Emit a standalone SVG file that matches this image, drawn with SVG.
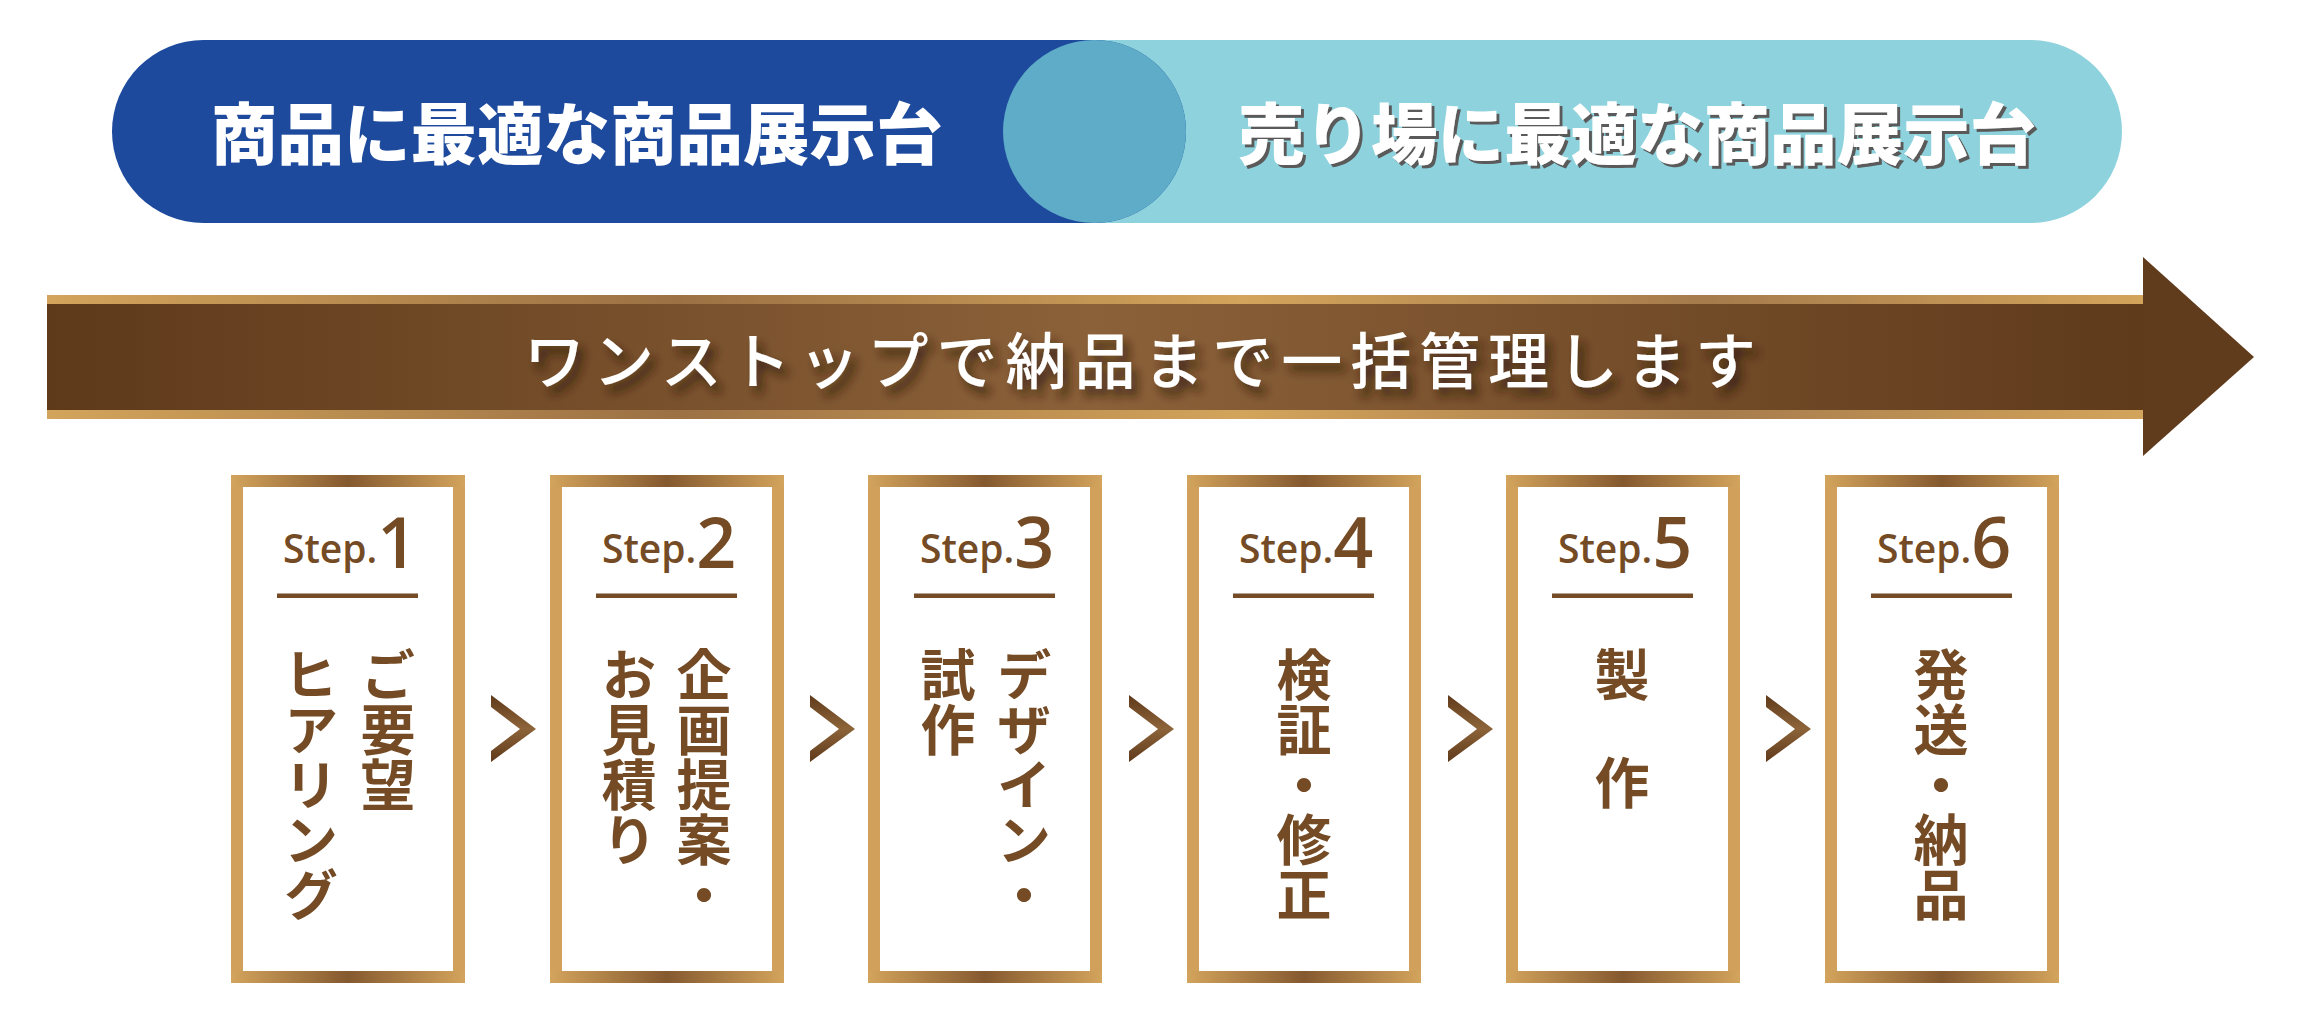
<svg xmlns="http://www.w3.org/2000/svg" width="2304" height="1026" viewBox="0 0 2304 1026">
<defs>
  <style>
    .pillText{font-family:"Noto Sans CJK JP","Noto Sans",sans-serif;font-weight:900;font-size:66.5px;fill:#ffffff;}
    .bandText{font-family:"Noto Sans CJK JP","Noto Sans",sans-serif;font-weight:500;font-size:61px;fill:#ffffff;}
    .stepLabel{font-family:"Open Sans","Noto Sans",sans-serif;font-weight:600;font-size:39px;fill:#744b24;}
    .stepNum{font-size:70px;}
    .vtext{font-family:"Noto Sans CJK JP","Noto Sans",sans-serif;font-weight:700;font-size:55px;fill:#744b24;writing-mode:vertical-rl;text-orientation:upright;}
    .frameOuter{fill:#d1a15b;}
    .frameEdge{fill:url(#frameGrad);}
    .frameInner{fill:#ffffff;}
    .rule{fill:#744b24;}
    .chev{fill:url(#chevGrad);}
  </style>
  <linearGradient id="bandGrad" x1="47" y1="0" x2="2143" y2="0" gradientUnits="userSpaceOnUse">
    <stop offset="0" stop-color="#5e391a"/>
    <stop offset="0.5" stop-color="#8b6139"/>
    <stop offset="1" stop-color="#5f3a1b"/>
  </linearGradient>
  <linearGradient id="stripGrad" x1="47" y1="0" x2="2143" y2="0" gradientUnits="userSpaceOnUse">
    <stop offset="0" stop-color="#d3a45b"/>
    <stop offset="0.3" stop-color="#9c7144"/>
    <stop offset="0.57" stop-color="#d3a45b"/>
    <stop offset="0.79" stop-color="#a57b4c"/>
    <stop offset="1" stop-color="#d3a45b"/>
  </linearGradient>
  <linearGradient id="frameGrad" x1="0" y1="0" x2="1" y2="0">
    <stop offset="0" stop-color="#d3a45c"/>
    <stop offset="0.5" stop-color="#85592f"/>
    <stop offset="1" stop-color="#d3a45c"/>
  </linearGradient>
  <linearGradient id="chevGrad" x1="0" y1="0" x2="0" y2="1">
    <stop offset="0" stop-color="#5f3a1b"/>
    <stop offset="0.5" stop-color="#8d6439"/>
    <stop offset="1" stop-color="#5f3a1b"/>
  </linearGradient>
  <filter id="pillShadow" x="-5%" y="-20%" width="110%" height="140%">
    <feDropShadow dx="3" dy="3" stdDeviation="0.6" flood-color="#5a5a5a" flood-opacity="1"/>
  </filter>
  <filter id="bandShadow" x="-5%" y="-40%" width="110%" height="180%">
    <feDropShadow dx="6" dy="8" stdDeviation="5" flood-color="#2e1a08" flood-opacity="0.75"/>
  </filter>
  <path id="chevShape" d="M0 695 L45 729 L0 762 L0 751 L29 729 L0 707 Z"/>
</defs>

<rect x="0" y="0" width="2304" height="1026" fill="#ffffff"/>

<!-- Top pills -->
<g id="pill-right">
  <rect x="1003" y="40" width="1119" height="183" rx="91.5" ry="91.5" fill="#8dd2dc"/>
</g>
<g id="pill-left">
  <rect x="112" y="40" width="1074" height="183" rx="91.5" ry="91.5" fill="#1d4a9d"/>
  <text class="pillText" x="211" y="159">商品に最適な商品展示台</text>
</g>
<g id="pill-overlap">
  <circle cx="1094.5" cy="131.5" r="91.5" fill="#5eacc8"/>
</g>
<g id="pill-right-label">
  <text class="pillText" x="1238" y="159" filter="url(#pillShadow)">売り場に最適な商品展示台</text>
</g>

<!-- Main arrow band -->
<g id="band">
  <rect x="47" y="295" width="2097" height="9" fill="url(#stripGrad)"/>
  <rect x="47" y="410" width="2097" height="9" fill="url(#stripGrad)"/>
  <rect x="47" y="304" width="2097" height="106" fill="url(#bandGrad)"/>
  <polygon points="2143,257 2254,357 2143,456" fill="#603b1c"/>
  <text class="bandText" x="524" y="384" textLength="1232" lengthAdjust="spacing" filter="url(#bandShadow)">ワンストップで納品まで一括管理します</text>
</g>

<!-- Step boxes -->
<g id="step1" transform="translate(231,0)">
  <rect class="frameOuter" x="0" y="475" width="234" height="508"/>
  <rect class="frameEdge" x="0" y="475" width="234" height="12"/>
  <rect class="frameEdge" x="0" y="971" width="234" height="12"/>
  <rect class="frameInner" x="12" y="487" width="210" height="484"/>
  <text class="stepLabel" x="52" y="563">Step.<tspan class="stepNum" dy="5">1</tspan></text>
  <rect class="rule" x="46" y="593.5" width="141" height="4.5"/>
  <text class="vtext" x="157" y="647">ご要望</text>
  <text class="vtext" x="80" y="647">ヒアリング</text>
</g>

<g id="step2" transform="translate(550,0)">
  <rect class="frameOuter" x="0" y="475" width="234" height="508"/>
  <rect class="frameEdge" x="0" y="475" width="234" height="12"/>
  <rect class="frameEdge" x="0" y="971" width="234" height="12"/>
  <rect class="frameInner" x="12" y="487" width="210" height="484"/>
  <text class="stepLabel" x="52" y="563">Step.<tspan class="stepNum" dy="5">2</tspan></text>
  <rect class="rule" x="46" y="593.5" width="141" height="4.5"/>
  <text class="vtext" x="154" y="647">企画提案・</text>
  <text class="vtext" x="79" y="647">お見積り</text>
</g>

<g id="step3" transform="translate(868,0)">
  <rect class="frameOuter" x="0" y="475" width="234" height="508"/>
  <rect class="frameEdge" x="0" y="475" width="234" height="12"/>
  <rect class="frameEdge" x="0" y="971" width="234" height="12"/>
  <rect class="frameInner" x="12" y="487" width="210" height="484"/>
  <text class="stepLabel" x="52" y="563">Step.<tspan class="stepNum" dy="5">3</tspan></text>
  <rect class="rule" x="46" y="593.5" width="141" height="4.5"/>
  <text class="vtext" x="156" y="647">デザイン・</text>
  <text class="vtext" x="80" y="647">試作</text>
</g>

<g id="step4" transform="translate(1187,0)">
  <rect class="frameOuter" x="0" y="475" width="234" height="508"/>
  <rect class="frameEdge" x="0" y="475" width="234" height="12"/>
  <rect class="frameEdge" x="0" y="971" width="234" height="12"/>
  <rect class="frameInner" x="12" y="487" width="210" height="484"/>
  <text class="stepLabel" x="52" y="563">Step.<tspan class="stepNum" dy="5">4</tspan></text>
  <rect class="rule" x="46" y="593.5" width="141" height="4.5"/>
  <text class="vtext" x="117" y="647">検証・修正</text>
</g>

<g id="step5" transform="translate(1506,0)">
  <rect class="frameOuter" x="0" y="475" width="234" height="508"/>
  <rect class="frameEdge" x="0" y="475" width="234" height="12"/>
  <rect class="frameEdge" x="0" y="971" width="234" height="12"/>
  <rect class="frameInner" x="12" y="487" width="210" height="484"/>
  <text class="stepLabel" x="52" y="563">Step.<tspan class="stepNum" dy="5">5</tspan></text>
  <rect class="rule" x="46" y="593.5" width="141" height="4.5"/>
  <text class="vtext" x="116" y="647"><tspan>製</tspan><tspan y="755">作</tspan></text>
</g>

<g id="step6" transform="translate(1825,0)">
  <rect class="frameOuter" x="0" y="475" width="234" height="508"/>
  <rect class="frameEdge" x="0" y="475" width="234" height="12"/>
  <rect class="frameEdge" x="0" y="971" width="234" height="12"/>
  <rect class="frameInner" x="12" y="487" width="210" height="484"/>
  <text class="stepLabel" x="52" y="563">Step.<tspan class="stepNum" dy="5">6</tspan></text>
  <rect class="rule" x="46" y="593.5" width="141" height="4.5"/>
  <text class="vtext" x="116" y="647">発送・納品</text>
</g>

<!-- Connectors (chevrons) -->
<g id="connectors">
  <use href="#chevShape" class="chev" x="491"/>
  <use href="#chevShape" class="chev" x="810"/>
  <use href="#chevShape" class="chev" x="1129"/>
  <use href="#chevShape" class="chev" x="1448"/>
  <use href="#chevShape" class="chev" x="1766"/>
</g>
</svg>
